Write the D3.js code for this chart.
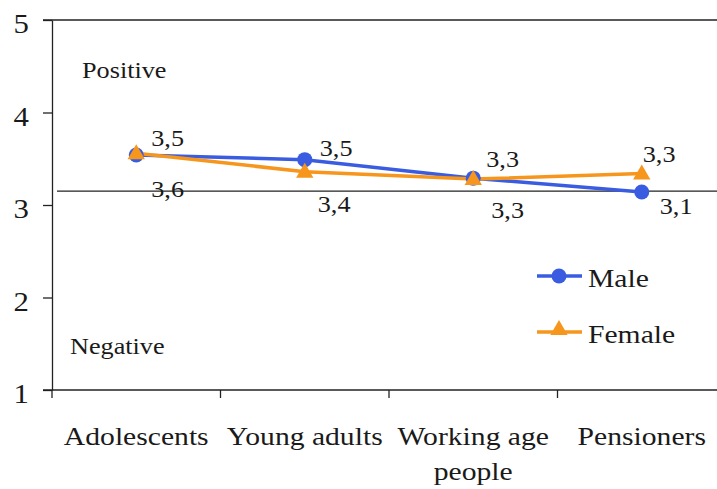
<!DOCTYPE html>
<html>
<head>
<meta charset="utf-8">
<script src="https://cdn.jsdelivr.net/npm/d3@7"></script>
</head>
<body style="margin:0;background:#fff">
<svg id="chart" width="717" height="489" style="display:block"></svg>
<script>
// Mean attitude score by age group, rated on a 1-5 scale
const categories = ["Adolescents", "Young adults", "Working age people", "Pensioners"];
const categoryLines = [["Adolescents"], ["Young adults"], ["Working age", "people"], ["Pensioners"]];
const maleValues = [3.54, 3.49, 3.29, 3.14];
const femaleValues = [3.56, 3.36, 3.28, 3.34];
const yTicks = [1, 2, 3, 4, 5];
const neutralLevel = 3.15;
const seriesNames = ["Male", "Female"];

// Label placement relative to each point: [dx to text start, dy to baseline]
const maleLabelOffsets = [[15, -9], [15, -4], [13, -11], [18, 22]];
const femaleLabelOffsets = [[15, 44], [13, 40], [18, 39], [1, -12]];

const W = 717;
const SX = 1.14; // horizontal stretch applied to all text
const BLUE = "#3a5ce0", ORANGE = "#f6961c", AXIS = "#222", INK = "#1a1a1a";

const svg = d3.select("#chart");

const x = d3.scaleBand().domain(categories).range([52, 726]).paddingInner(0).paddingOuter(0);
const y = d3.scaleLinear().domain([1, 5]).range([390, 20]);
const cx = c => x(c) + x.bandwidth() / 2;

function addText(str, px, py, size, anchor) {
  return svg.append("text")
    .attr("transform", `translate(${px},${py}) scale(${SX},1)`)
    .attr("text-anchor", anchor || "start")
    .style("font-family", '"Liberation Serif"')
    .style("font-size", size + "px")
    .attr("fill", INK)
    .text(str);
}

// plot frame: top border and neutral reference line
svg.append("line").attr("x1", 43).attr("x2", W).attr("y1", y(5)).attr("y2", y(5))
  .attr("stroke", AXIS).attr("stroke-width", 1.3);
svg.append("line").attr("x1", 57).attr("x2", W).attr("y1", y(neutralLevel)).attr("y2", y(neutralLevel))
  .attr("stroke", AXIS).attr("stroke-width", 1.3);

// y axis
const yAxis = svg.append("g").attr("transform", "translate(52,0)")
  .call(d3.axisLeft(y).tickValues(yTicks).tickSize(9).tickSizeOuter(0).tickFormat(""));
yAxis.selectAll("path, line").attr("stroke", AXIS).attr("stroke-width", 1.3);
yTicks.forEach(t => addText(String(t), 29, y(t) + 13, 27, "end"));

// x axis with ticks on category boundaries
const xAxisG = svg.append("g").attr("transform", `translate(0,${y(1)})`);
xAxisG.append("line").attr("x1", 43).attr("x2", W).attr("stroke", AXIS).attr("stroke-width", 1.3);
categories.forEach(c => {
  xAxisG.append("line").attr("x1", x(c)).attr("x2", x(c)).attr("y1", 0).attr("y2", 8)
    .attr("stroke", AXIS).attr("stroke-width", 1.3);
});
categories.forEach((c, i) => {
  categoryLines[i].forEach((ln, j) => addText(ln, cx(c), 445 + j * 35, 26, "middle"));
});

// zone captions
addText("Positive", 82, 78, 23);
addText("Negative", 70, 354, 23);

// series lines and markers
const line = d3.line().x((d, i) => cx(categories[i])).y(d => y(d));
const triangle = d3.symbol().type(d3.symbolTriangle).size(130);

svg.append("path").datum(maleValues).attr("d", line)
  .attr("fill", "none").attr("stroke", BLUE).attr("stroke-width", 3.5);
svg.append("path").datum(femaleValues).attr("d", line)
  .attr("fill", "none").attr("stroke", ORANGE).attr("stroke-width", 3.5);

svg.selectAll(".m").data(maleValues).enter().append("circle")
  .attr("cx", (d, i) => cx(categories[i])).attr("cy", d => y(d)).attr("r", 7.5)
  .attr("fill", BLUE);
svg.selectAll(".f").data(femaleValues).enter().append("path")
  .attr("d", triangle)
  .attr("transform", (d, i) => `translate(${cx(categories[i])},${y(d) + 1})`)
  .attr("fill", ORANGE);

// value labels
const fmt = v => d3.format(".1f")(v).replace(".", ",");
maleValues.forEach((v, i) => {
  const o = maleLabelOffsets[i];
  addText(fmt(v), cx(categories[i]) + o[0], y(v) + o[1], 23);
});
femaleValues.forEach((v, i) => {
  const o = femaleLabelOffsets[i];
  addText(fmt(v), cx(categories[i]) + o[0], y(v) + o[1], 23);
});

// legend
const legendY = [276, 332];
const legendColors = [BLUE, ORANGE];
seriesNames.forEach((name, i) => {
  svg.append("line").attr("x1", 537).attr("x2", 582).attr("y1", legendY[i]).attr("y2", legendY[i])
    .attr("stroke", legendColors[i]).attr("stroke-width", 3.5);
  if (i === 0) {
    svg.append("circle").attr("cx", 559).attr("cy", legendY[i]).attr("r", 7.5).attr("fill", BLUE);
  } else {
    svg.append("path").attr("d", triangle).attr("transform", `translate(559,${legendY[i] - 2})`).attr("fill", ORANGE);
  }
  addText(name, 588, legendY[i] + 11, 26);
});
</script>
</body>
</html>
